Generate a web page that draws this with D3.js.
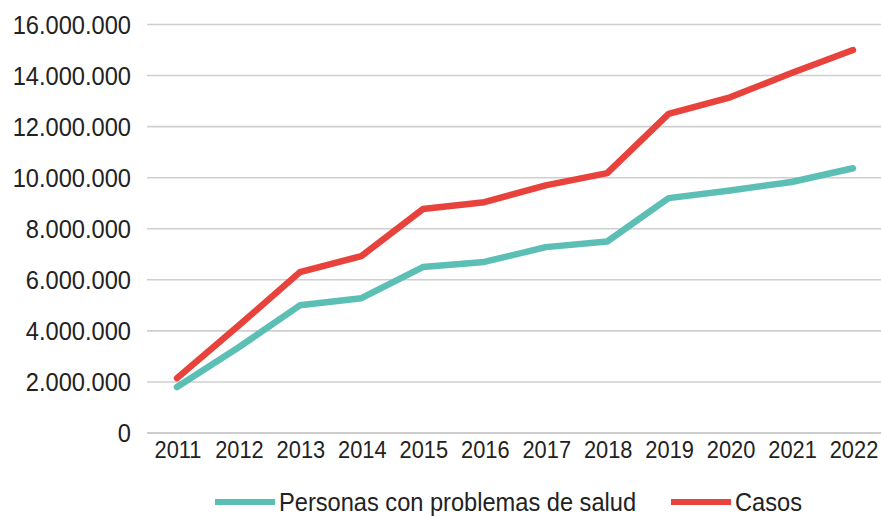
<!DOCTYPE html>
<html>
<head>
<meta charset="utf-8">
<script src="https://cdn.jsdelivr.net/npm/d3@7"></script>
<style>
  html, body { margin: 0; padding: 0; background: #ffffff; }
  svg { display: block; }
  text { font-family: "Liberation Sans", Arial, sans-serif; fill: #222222; }
</style>
</head>
<body>
<svg id="chart" width="881" height="517"></svg>
<script>
// ---- Data ----
const years = ["2011","2012","2013","2014","2015","2016","2017","2018","2019","2020","2021","2022"];
const personas = [1800000, 3350000, 5000000, 5280000, 6500000, 6700000, 7280000, 7500000, 9200000, 9500000, 9830000, 10370000];
const casos = [2150000, 4200000, 6300000, 6930000, 8770000, 9040000, 9700000, 10180000, 12500000, 13150000, 14100000, 15000000];
const yTicks = [0, 2000000, 4000000, 6000000, 8000000, 10000000, 12000000, 14000000, 16000000];
const seriesNames = ["Personas con problemas de salud", "Casos"];
const seriesColors = ["#5cbfb6", "#e8423d"];

// ---- Layout ----
const svg = d3.select("#chart");
const W = 881, H = 517;
const gridLeft = 147, gridRight = 881;

const x = d3.scalePoint().domain(years).range([177, 853]);
const y = d3.scaleLinear().domain([0, 16000000]).range([433, 24.5]);

const locale = d3.formatLocale({decimal: ",", thousands: ".", grouping: [3], currency: ["", ""]});
const fmt = locale.format(",d");

// Gridlines
svg.append("g").selectAll("line").data(yTicks).join("line")
  .attr("x1", gridLeft).attr("x2", gridRight)
  .attr("y1", d => y(d)).attr("y2", d => y(d))
  .attr("stroke", d => d === 0 ? "#bdbdbd" : "#cfcfcf")
  .attr("stroke-width", 1.6);

// Y axis labels
svg.append("g").selectAll("text").data(yTicks).join("text")
  .attr("transform", d => `translate(131,${y(d)}) scale(0.91,1)`)
  .attr("text-anchor", "end")
  .attr("dy", "0.36em")
  .attr("font-size", 26)
  .text(d => fmt(d));

// X axis labels
svg.append("g").selectAll("text").data(years).join("text")
  .attr("transform", d => `translate(${x(d) + 1},458) scale(0.95,1)`)
  .attr("text-anchor", "middle")
  .attr("font-size", 23)
  .text(d => d);

// Lines
const line = d3.line()
  .x((d, i) => x(years[i]))
  .y(d => y(d));

[personas, casos].forEach((vals, k) => {
  svg.append("path")
    .datum(vals)
    .attr("d", line)
    .attr("fill", "none")
    .attr("stroke", seriesColors[k])
    .attr("stroke-width", 6.5)
    .attr("stroke-linejoin", "round")
    .attr("stroke-linecap", "round");
});

// Legend
const legendItems = [
  {name: seriesNames[0], color: seriesColors[0], x1: 215, x2: 275, tx: 279},
  {name: seriesNames[1], color: seriesColors[1], x1: 671, x2: 731, tx: 735}
];
const lg = svg.append("g");
legendItems.forEach(it => {
  lg.append("line")
    .attr("x1", it.x1).attr("x2", it.x2)
    .attr("y1", 502).attr("y2", 502)
    .attr("stroke", it.color).attr("stroke-width", 6);
  lg.append("text")
    .attr("transform", `translate(${it.tx},502) scale(0.945,1)`)
    .attr("dy", "0.36em")
    .attr("font-size", 25)
    .text(it.name);
});
</script>
</body>
</html>
